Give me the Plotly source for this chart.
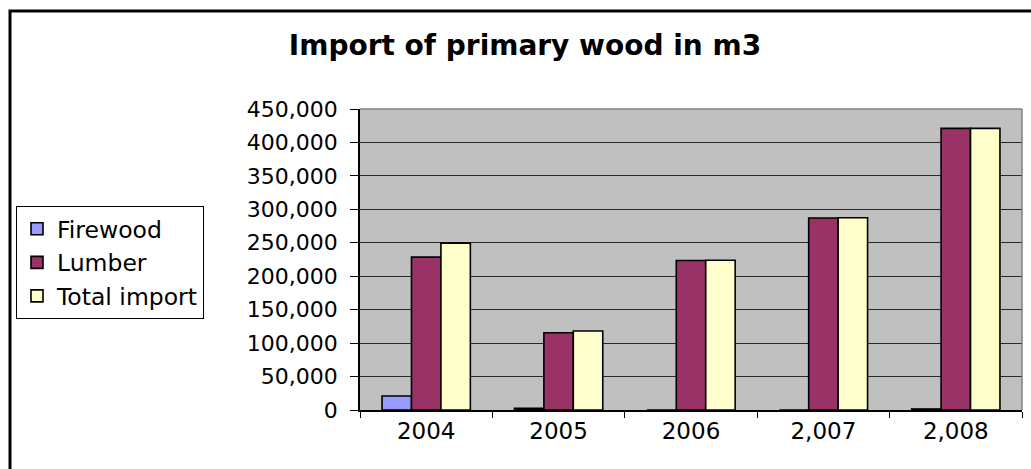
import plotly.graph_objects as go

years = ["2004", "2005", "2006", "2,007", "2,008"]
firewood = [21000, 2500, 0, 0, 1500]
lumber = [228500, 115500, 223500, 287000, 421000]
total_import = [249500, 118000, 223800, 287500, 421000]

series = [
    ("Firewood", firewood, "#9999FF"),
    ("Lumber", lumber, "#993366"),
    ("Total import", total_import, "#FFFFCC"),
]

W, H = 1031, 469
L, R, T, B = 360, 9, 109, 59
pw, ph = W - L - R, H - T - B

def px_x(p):
    return (p - L) / pw

def px_y(p):
    return (H - B - p) / ph

fig = go.Figure()
for name, vals, col in series:
    fig.add_trace(go.Bar(
        x=years, y=vals, name=name,
        marker=dict(color=col, line=dict(color="black", width=1.6)),
    ))

font = "DejaVu Sans, Arial, sans-serif"
fig.update_layout(
    width=W, height=H,
    margin=dict(l=L, r=R, t=T, b=B, pad=0, autoexpand=False),
    paper_bgcolor="white",
    plot_bgcolor="#C0C0C0",
    barmode="group",
    bargap=0.333,
    bargroupgap=0,
    font=dict(family=font, color="black", size=23),
    title=dict(
        text="<b>Import of primary wood in m3</b>",
        font=dict(family=font, size=28, color="black"),
        xref="paper", x=px_x(525), xanchor="center",
        yref="container", y=1 - 45 / H, yanchor="middle",
    ),
    legend=dict(
        x=px_x(16), xanchor="left", y=px_y(206), yanchor="top",
        bgcolor="white", bordercolor="black", borderwidth=1,
        font=dict(family=font, size=23.5, color="black"),
        traceorder="normal",
    ),
    xaxis=dict(
        type="category",
        showline=True, linecolor="black", linewidth=1.5,
        ticks="outside", tickson="boundaries", ticklen=6,
        tickcolor="black", tickwidth=1,
        showgrid=False,
        tickfont=dict(size=23),
    ),
    yaxis=dict(
        range=[0, 450000], dtick=50000, tick0=0,
        tickformat=",",
        showline=True, linecolor="black", linewidth=1.5,
        ticks="outside", ticklen=8, tickcolor="black", tickwidth=1,
        showgrid=True, gridcolor="#2a2a2a", gridwidth=1,
        zeroline=False,
        ticklabelstandoff=8,
        tickfont=dict(size=22),
    ),
    shapes=[
        dict(type="line", xref="paper", yref="paper", x0=0, x1=1, y0=1, y1=1,
             line=dict(color="#808080", width=1.5), layer="above"),
        dict(type="line", xref="paper", yref="paper", x0=1, x1=1, y0=0, y1=1,
             line=dict(color="#808080", width=1.5), layer="above"),
        dict(type="rect", xref="paper", yref="paper",
             x0=px_x(10), x1=px_x(1045), y0=px_y(11), y1=px_y(490),
             line=dict(color="black", width=3), fillcolor="rgba(0,0,0,0)",
             layer="below"),
    ],
)

fig.write_html(
    "out.html",
    config={"displayModeBar": False},
    post_script="document.body.style.margin='0';document.body.style.padding='0';",
)
